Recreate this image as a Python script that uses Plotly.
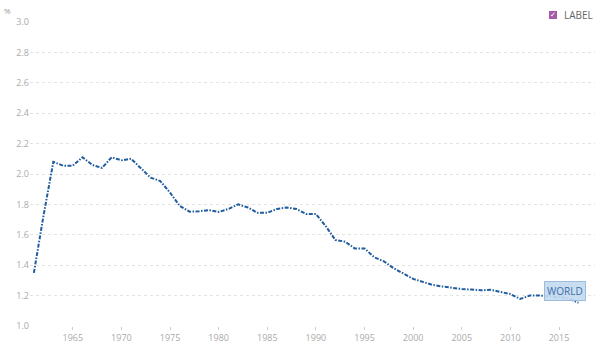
import plotly.graph_objects as go

years = list(range(1961, 2018))
values = [1.35, 1.73, 2.08, 2.055, 2.055, 2.11, 2.06, 2.04, 2.11, 2.09,
          2.10, 2.04, 1.976, 1.954, 1.877, 1.79, 1.752, 1.755, 1.763, 1.75,
          1.77, 1.80, 1.78, 1.745, 1.745, 1.77, 1.78, 1.77, 1.737, 1.737,
          1.658, 1.566, 1.555, 1.51, 1.51, 1.452, 1.425, 1.38, 1.345, 1.31,
          1.29, 1.27, 1.26, 1.252, 1.243, 1.24, 1.235, 1.238, 1.226, 1.21,
          1.178, 1.20, 1.20, 1.195, 1.19, 1.18, 1.153]
x_ticks = [1965, 1970, 1975, 1980, 1985, 1990, 1995, 2000, 2005, 2010, 2015]
y_ticks = [1.0, 1.2, 1.4, 1.6, 1.8, 2.0, 2.2, 2.4, 2.6, 2.8, 3.0]
series_name = "WORLD"
legend_label = "LABEL"

line_color = "#1f5c9e"
font_fam = "Open Sans, sans-serif"

fig = go.Figure()
fig.add_trace(go.Scatter(
    x=years, y=values, mode="lines", name=series_name,
    line=dict(color=line_color, width=2, dash="4px,1.5px,1.5px,1.5px"),
    showlegend=False,
))

fig.add_annotation(
    x=2015.6, y=1.23, xref="x", yref="y", text=series_name, showarrow=False,
    font=dict(family=font_fam, size=10, color="#3a6ea8"),
    bgcolor="rgba(196,218,240,0.92)", bordercolor="#9dbde0", borderwidth=1,
    borderpad=2,
)

fig.add_annotation(
    xref="paper", yref="paper", x=-0.039, y=1.039, xanchor="center", yanchor="middle",
    text="%", showarrow=False, font=dict(family=font_fam, size=8, color="#999"))

fig.add_annotation(
    xref="paper", yref="paper", x=0.9265, y=1.023, xanchor="center", yanchor="middle",
    text="✓", showarrow=False, width=8, height=8,
    bgcolor="#a45aa8", bordercolor="#a45aa8", borderwidth=0, borderpad=0,
    font=dict(family="DejaVu Sans", size=7, color="white"))
fig.add_annotation(
    xref="paper", yref="paper", x=0.941, y=1.023, xanchor="left", yanchor="middle",
    text=legend_label, showarrow=False,
    font=dict(family=font_fam, size=10, color="#666"))

fig.update_layout(
    width=600, height=357,
    margin=dict(l=30, r=5, t=22, b=31, autoexpand=False),
    paper_bgcolor="white", plot_bgcolor="white",
    font=dict(family=font_fam, size=9, color="#aaa"),
    xaxis=dict(range=[1960.6, 2018.7], tickvals=x_ticks, showgrid=False,
               zeroline=False, showline=False, ticks="outside", ticklen=3,
               tickcolor="#ccc", tickfont=dict(size=9, color="#aaa"),
               automargin=False),
    yaxis=dict(range=[1.0, 3.0], tickvals=y_ticks, tickformat=".1f",
               showgrid=True, gridcolor="#e3e3e3", griddash="dot",
               zeroline=False, showline=False, ticks="",
               tickfont=dict(size=9, color="#aaa"), automargin=False),
)

fig.write_html("out.html", config={"displayModeBar": False},
               post_script="document.body.style.margin='0';document.body.style.overflow='hidden';")
